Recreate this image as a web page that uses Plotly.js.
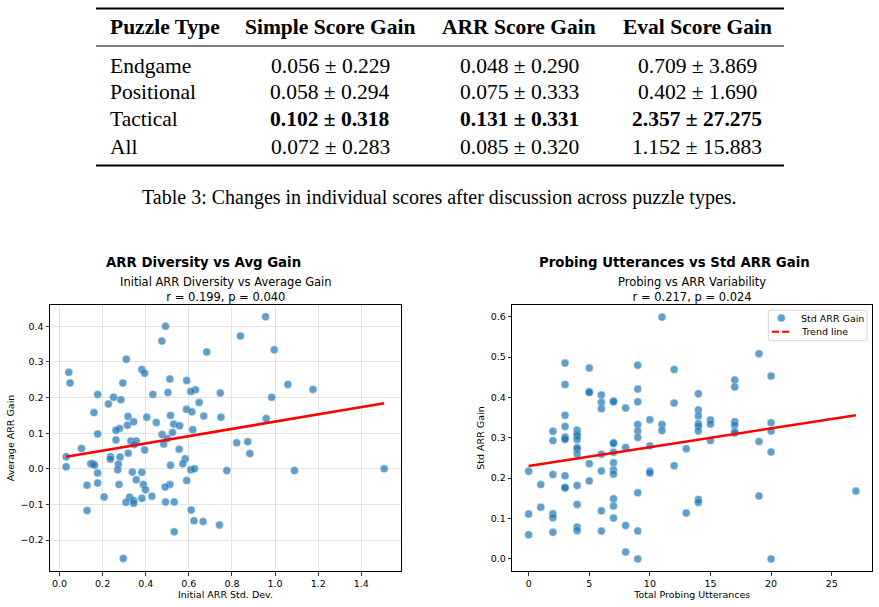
<!DOCTYPE html>
<html>
<head>
<meta charset="utf-8">
<script src="https://cdn.plot.ly/plotly-3.0.1.min.js"></script>
<style>
  html, body { margin: 0; padding: 0; background: #ffffff; }
  #fig { width: 879px; height: 607px; }
</style>
</head>
<body>
<div id="fig"></div>
<script>
// ---- Table 3: score changes by puzzle type ----
const tableHeaders = ["Puzzle Type", "Simple Score Gain", "ARR Score Gain", "Eval Score Gain"];
const puzzleTypes = ["Endgame", "Positional", "Tactical", "All"];
const simpleScoreGain = ["0.056 ± 0.229", "0.058 ± 0.294", "0.102 ± 0.318", "0.072 ± 0.283"];
const arrScoreGain = ["0.048 ± 0.290", "0.075 ± 0.333", "0.131 ± 0.331", "0.085 ± 0.320"];
const evalScoreGain = ["0.709 ± 3.869", "0.402 ± 1.690", "2.357 ± 27.275", "1.152 ± 15.883"];
const boldRows = ["Tactical"];
const tableCaption = "Table 3: Changes in individual scores after discussion across puzzle types.";

// ---- Left panel: initial ARR spread vs average ARR gain ----
const initialArrStd = [
  0.956,0.492,0.839,0.475,0.996,0.683,0.310,0.043,0.382,0.395,
  0.049,0.294,0.512,0.590,1.059,1.176,0.631,0.609,0.177,0.433,
  0.503,0.746,0.251,0.984,0.285,0.227,0.648,0.160,0.589,0.614,
  0.318,0.405,0.515,0.669,0.749,0.959,0.449,0.344,0.315,0.530,
  0.557,0.279,0.262,0.618,0.177,0.476,0.524,0.500,0.262,0.331,
  0.356,0.347,0.483,0.822,0.873,0.102,0.555,0.395,0.319,0.883,
  0.031,0.237,0.281,0.236,0.583,0.273,0.145,0.154,0.163,0.572,
  0.515,0.031,0.270,0.609,0.626,1.506,0.776,1.090,0.338,0.382,
  0.177,0.590,0.356,0.177,0.128,0.276,0.389,0.512,0.490,0.399,
  0.207,0.325,0.429,0.382,0.344,0.308,0.344,0.492,0.532,0.128,
  0.611,0.624,0.666,0.742,0.532,0.296
];
const avgArrGain = [
  0.427,0.400,0.373,0.359,0.334,0.328,0.308,0.271,0.279,0.268,
  0.241,0.241,0.252,0.248,0.237,0.223,0.222,0.217,0.209,0.209,
  0.214,0.213,0.201,0.201,0.194,0.182,0.186,0.158,0.167,0.160,
  0.147,0.145,0.150,0.148,0.145,0.141,0.130,0.132,0.122,0.126,
  0.121,0.113,0.108,0.110,0.098,0.096,0.102,0.085,0.081,0.078,
  0.078,0.068,0.070,0.073,0.076,0.057,0.055,0.053,0.044,0.043,
  0.034,0.034,0.033,0.027,0.028,0.013,0.014,0.014,0.010,0.014,
  0.010,0.006,-0.003,-0.003,0.000,0.000,-0.005,-0.005,-0.009,-0.010,
  -0.012,-0.033,-0.031,-0.040,-0.046,-0.044,-0.044,-0.044,-0.051,-0.059,
  -0.079,-0.080,-0.077,-0.083,-0.089,-0.094,-0.097,-0.093,-0.093,-0.117,
  -0.116,-0.146,-0.148,-0.158,-0.177,-0.252
];
const arrTrendX = [0.031, 1.506];
const arrTrendY = [0.034, 0.184];

// ---- Right panel: probing utterances vs std of ARR gain ----
const probingCount = [
  0,0,0,
  1,1,
  2,2,2,2,2,2,
  3,3,3,3,3,3,3,3,3,3,
  4,4,4,4,4,4,4,4,4,4,4,
  5,5,5,5,5,
  6,6,6,6,6,6,6,
  7,7,7,7,7,7,7,7,7,7,7,
  8,8,8,8,
  9,9,9,9,9,9,9,9,9,
  10,10,10,10,
  11,11,11,
  12,12,12,
  13,13,
  14,14,14,14,14,14,14,14,
  15,15,15,
  17,17,17,17,17,17,
  19,19,19,
  20,20,20,20,20,
  27
];
const stdArrGain = [
  0.217,0.111,0.060,
  0.184,0.128,
  0.316,0.293,0.209,0.112,0.102,0.066,
  0.485,0.432,0.356,0.328,0.302,0.299,0.296,0.206,0.177,0.176,
  0.319,0.310,0.305,0.296,0.276,0.273,0.260,0.182,0.135,0.079,0.070,
  0.473,0.414,0.412,0.236,0.193,
  0.406,0.388,0.372,0.259,0.218,0.119,0.069,
  0.391,0.389,0.288,0.286,0.264,0.238,0.220,0.210,0.149,0.131,0.101,
  0.374,0.276,0.083,0.017,
  0.480,0.421,0.389,0.333,0.317,0.301,0.164,0.069,0.000,
  0.345,0.280,0.217,0.213,
  0.599,0.333,0.318,
  0.469,0.386,0.231,
  0.273,0.114,
  0.409,0.369,0.354,0.335,0.329,0.317,0.147,0.140,
  0.344,0.334,0.293,
  0.443,0.426,0.340,0.331,0.315,0.312,
  0.508,0.291,0.156,
  0.453,0.337,0.317,0.265,0.000,
  0.168
];
const probeTrendX = [0, 27];
const probeTrendY = [0.230, 0.356];
const legendLabels = ["Std ARR Gain", "Trend line"];

// ---- page geometry helpers (pixels -> paper fractions) ----
const W = 879, H = 607;
const px = v => v / W;
const py = v => 1 - v / H;

const SANS = "DejaVu Sans, Verdana, sans-serif";
const SERIF = "Liberation Serif, Times New Roman, serif";
const BLUE = "#1f77b4";
const RED = "#ff0000";

const pointMarker = {
  color: BLUE, size: 8, opacity: 0.7,
  line: { color: "#ffffff", width: 0.4 }
};

const traces = [
  {
    type: "scatter", mode: "markers", xaxis: "x", yaxis: "y",
    x: initialArrStd, y: avgArrGain, marker: pointMarker,
    name: "Average ARR Gain", showlegend: false
  },
  {
    type: "scatter", mode: "lines", xaxis: "x", yaxis: "y",
    x: arrTrendX, y: arrTrendY,
    line: { color: RED, width: 2.6 }, name: "Trend line", showlegend: false
  },
  {
    type: "scatter", mode: "markers", xaxis: "x2", yaxis: "y2",
    x: probingCount, y: stdArrGain, marker: pointMarker,
    name: legendLabels[0], showlegend: false
  },
  {
    type: "scatter", mode: "lines", xaxis: "x2", yaxis: "y2",
    x: probeTrendX, y: probeTrendY,
    line: { color: RED, width: 2.6 }, name: legendLabels[1], showlegend: false
  }
];

const axisCommon = {
  showline: true, linecolor: "#000000", linewidth: 1, mirror: true,
  ticks: "outside", ticklen: 3.5, tickwidth: 0.8, tickcolor: "#000000",
  tickfont: { family: SANS, size: 9.5, color: "#000000" },
  zeroline: false, fixedrange: true
};
const axisTitleFont = { family: SANS, size: 9.5, color: "#000000" };

const layout = {
  width: W, height: H,
  margin: { l: 0, r: 0, t: 0, b: 0, pad: 0 },
  paper_bgcolor: "#ffffff", plot_bgcolor: "#ffffff",
  font: { family: SANS, color: "#000000" },
  showlegend: false,
  xaxis: Object.assign({}, axisCommon, {
    domain: [px(50), px(401)], range: [-0.044, 1.584],
    tick0: 0, dtick: 0.2, tickformat: ".1f",
    showgrid: true, gridcolor: "#e4e4e4", gridwidth: 1,
    anchor: "y",
    title: { text: "Initial ARR Std. Dev.", font: axisTitleFont, standoff: 2 }
  }),
  yaxis: Object.assign({}, axisCommon, {
    domain: [py(571), py(305)], range: [-0.287, 0.460],
    tick0: 0, dtick: 0.1, tickformat: ".1f",
    showgrid: true, gridcolor: "#e4e4e4", gridwidth: 1,
    anchor: "x",
    title: { text: "Average ARR Gain", font: axisTitleFont, standoff: 4 }
  }),
  xaxis2: Object.assign({}, axisCommon, {
    domain: [px(512.3), px(872.3)], range: [-1.35, 28.35],
    tick0: 0, dtick: 5, showgrid: false,
    anchor: "y2",
    title: { text: "Total Probing Utterances", font: axisTitleFont, standoff: 2 }
  }),
  yaxis2: Object.assign({}, axisCommon, {
    domain: [py(571), py(305)], range: [-0.030, 0.629],
    tick0: 0, dtick: 0.1, tickformat: ".1f", showgrid: false,
    anchor: "x2",
    title: { text: "Std ARR Gain", font: axisTitleFont, standoff: 4 }
  }),
  shapes: [],
  annotations: []
};

function addText(text, x, y, size, opts) {
  layout.annotations.push(Object.assign({
    text: text, xref: "paper", yref: "paper", x: px(x), y: py(y),
    xanchor: "center", yanchor: "middle", showarrow: false,
    font: { family: SANS, size: size, color: "#000000" }
  }, opts || {}));
}

// panel titles
addText("<b>ARR Diversity vs Avg Gain</b>", 203.7, 263, 13.3);
addText("Initial ARR Diversity vs Average Gain<br>r = 0.199, p = 0.040", 225.5, 289, 11.5);
addText("<b>Probing Utterances vs Std ARR Gain</b>", 674, 263, 13.3);
addText("Probing vs ARR Variability<br>r = 0.217, p = 0.024", 692.3, 289, 11.5);

// compact legend box for the right panel
(function drawLegend() {
  const x0 = 768.3, x1 = 867, y0 = 310, y1 = 340.7, r = 2.5;
  const P = (x, y) => px(x) + "," + py(y);
  layout.shapes.push({
    type: "path", xref: "paper", yref: "paper",
    path: "M" + P(x0 + r, y0) + " L" + P(x1 - r, y0) + " Q" + P(x1, y0) + " " + P(x1, y0 + r) +
          " L" + P(x1, y1 - r) + " Q" + P(x1, y1) + " " + P(x1 - r, y1) +
          " L" + P(x0 + r, y1) + " Q" + P(x0, y1) + " " + P(x0, y1 - r) +
          " L" + P(x0, y0 + r) + " Q" + P(x0, y0) + " " + P(x0 + r, y0) + " Z",
    fillcolor: "rgba(255,255,255,0.8)", line: { color: "#d4d4d4", width: 1 }
  });
  const mx = 781.3, my = 318, mr = 4;
  layout.shapes.push({
    type: "circle", xref: "paper", yref: "paper",
    x0: px(mx - mr), x1: px(mx + mr), y0: py(my + mr), y1: py(my - mr),
    fillcolor: BLUE, opacity: 0.7, line: { color: "#ffffff", width: 0.4 }
  });
  layout.shapes.push({
    type: "line", xref: "paper", yref: "paper",
    x0: px(772), x1: px(790), y0: py(331.7), y1: py(331.7),
    line: { color: RED, width: 2, dash: "7px,3px" }
  });
  addText(legendLabels[0], 799.3, 318, 9.5, { xanchor: "left" });
  addText(legendLabels[1], 799.3, 331.7, 9.5, { xanchor: "left" });
})();

// booktabs-style table
const ruleLeft = 96, ruleRight = 784;
function rule(y, w) {
  layout.shapes.push({
    type: "line", xref: "paper", yref: "paper",
    x0: px(ruleLeft), x1: px(ruleRight), y0: py(y), y1: py(y),
    line: { color: "#000000", width: w }
  });
}
rule(8.5, 2);
rule(46, 1);
rule(165.5, 2);

const colCenters = [108, 330, 519, 697];
const headerY = 27;
const rowY = [65.5, 92.5, 119.5, 146.5];
const serifFont = { family: SERIF, size: 21.5, color: "#000000" };

tableHeaders.forEach((h, i) => {
  addText("<b>" + h + "</b>", colCenters[i], headerY, 21.5, {
    font: serifFont, xanchor: i === 0 ? "left" : "center"
  });
});
const columns = [puzzleTypes, simpleScoreGain, arrScoreGain, evalScoreGain];
puzzleTypes.forEach((name, r) => {
  const isBold = boldRows.indexOf(name) >= 0;
  columns.forEach((col, c) => {
    let t = col[r];
    if (isBold && c > 0) t = "<b>" + t + "</b>";
    addText(t, colCenters[c], rowY[r], 21.5, {
      font: serifFont, xanchor: c === 0 ? "left" : "center"
    });
  });
});
addText(tableCaption, 439.5, 197, 20, { font: { family: SERIF, size: 20, color: "#000000" } });

Plotly.newPlot("fig", traces, layout, { displayModeBar: false, staticPlot: true });
</script>
</body>
</html>
